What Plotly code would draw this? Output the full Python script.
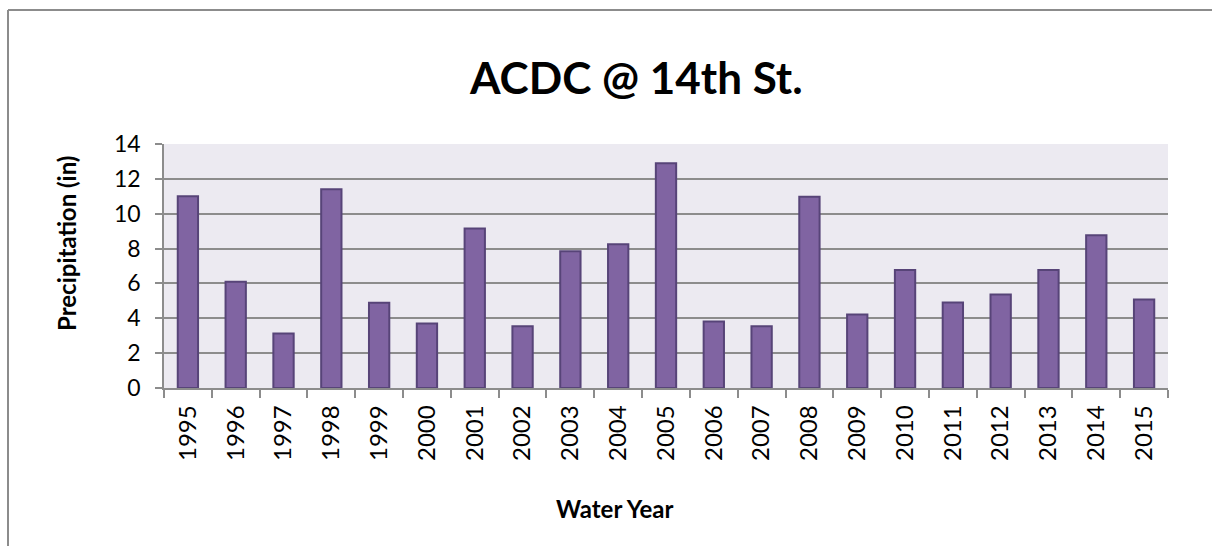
import plotly.graph_objects as go

years = [str(y) for y in range(1995, 2016)]
precip = [11.0, 6.1, 3.13, 11.41, 4.89, 3.7, 9.15, 3.55, 7.84, 8.25, 12.89,
          3.82, 3.55, 10.97, 4.22, 6.77, 4.91, 5.37, 6.77, 8.76, 5.08]
y_ticks = [0, 2, 4, 6, 8, 10, 12, 14]

W, H = 1212, 546
L, R, T, B = 164, 44, 144, 158
pw, ph = W - L - R, H - T - B

def px(x):
    return (x - L) / pw

def py(y):
    return (H - B - y) / ph

grid = "#8C8C8C"
font = "Lato, 'Open Sans', sans-serif"

fig = go.Figure(go.Bar(
    x=years, y=precip,
    marker=dict(color="#8064A2", line=dict(color="#574478", width=2)),
))

fig.update_layout(
    width=W, height=H,
    margin=dict(l=L, r=R, t=T, b=B, pad=0),
    paper_bgcolor="white",
    plot_bgcolor="#ECEAF1",
    bargap=0.575,
    showlegend=False,
    font=dict(family=font, color="black"),
    xaxis=dict(
        type="category", tickangle=-90, tickson="boundaries",
        ticks="outside", ticklen=8, tickwidth=1.5, tickcolor=grid,
        showline=True, linecolor=grid, linewidth=1.5,
        showgrid=False, tickfont=dict(size=24), ticklabelstandoff=6,
    ),
    yaxis=dict(
        range=[0, 14], tickvals=y_ticks, ticks="outside", ticklen=7,
        tickwidth=1.5, tickcolor=grid, showline=True, linecolor=grid,
        linewidth=1.5, showgrid=True, gridcolor=grid, gridwidth=1.5,
        zeroline=False, tickfont=dict(size=23), ticklabelstandoff=10,
    ),
    annotations=[
        dict(text="<b>ACDC @ 14th St.</b>", xref="paper", yref="paper",
             x=px(636), y=py(77), xanchor="center", yanchor="middle",
             showarrow=False, font=dict(size=44, family=font)),
        dict(text="<b>Water Year</b>", xref="paper", yref="paper",
             x=px(615), y=py(508), xanchor="center", yanchor="middle",
             showarrow=False, font=dict(size=24, family=font)),
        dict(text="<b>Precipitation (in)</b>", xref="paper", yref="paper",
             x=px(66), y=py(244), xanchor="center", yanchor="middle",
             textangle=-90, showarrow=False, font=dict(size=24, family=font)),
    ],
    shapes=[
        dict(type="line", xref="paper", yref="paper",
             x0=px(8), x1=px(W + 40), y0=py(10), y1=py(10),
             line=dict(color="#8C8C8C", width=2), layer="below"),
        dict(type="line", xref="paper", yref="paper",
             x0=px(8), x1=px(8), y0=py(10), y1=py(H + 40),
             line=dict(color="#8C8C8C", width=2), layer="below"),
    ],
)

fig.write_html("out.html", config={"displayModeBar": False},
               post_script="document.body.style.margin='0';document.body.style.overflow='hidden';")
